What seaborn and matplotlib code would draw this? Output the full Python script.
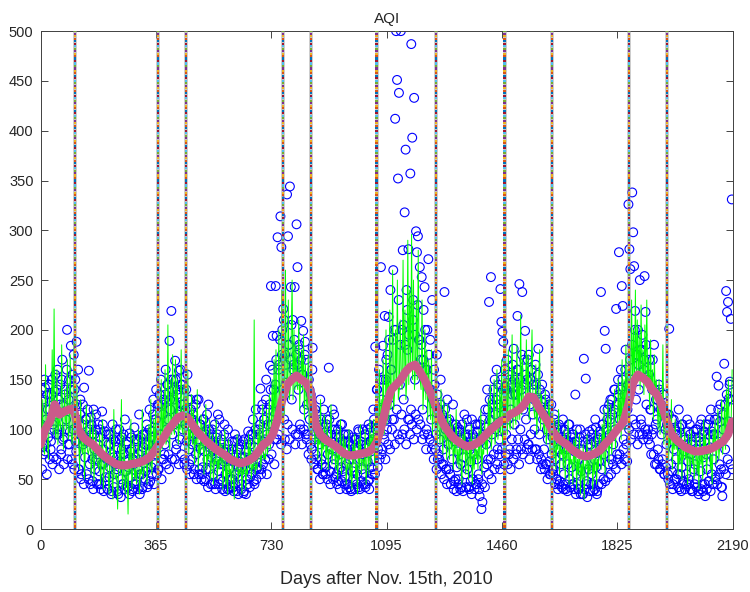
import numpy as np
import matplotlib
matplotlib.use("Agg")
import matplotlib.pyplot as plt
import seaborn as sns

# ---------------------------------------------------------------
# Daily AQI record, Nov. 15th 2010 onwards (two interleaved samples)
# ---------------------------------------------------------------
observed_days_a = list(range(0, 2190, 3))
observed_aqi_a = [
    95, 140, 82, 128, 150, 78, 110, 135, 92, 145,
    120, 88, 150, 105, 72, 138, 115, 95, 160, 130,
    100, 145, 80, 170, 125, 92, 135, 110, 200, 85,
    150, 98, 184, 120, 65, 175, 140, 88, 188, 110,
    60, 95, 130, 55, 105, 85, 142, 72, 110, 90,
    88, 159, 65, 112, 95, 48, 120, 80, 100, 70,
    75, 105, 58, 92, 45, 118, 80, 66, 98, 52,
    70, 40, 95, 62, 85, 38, 105, 72, 55, 88,
    60, 82, 35, 100, 68, 50, 92, 45, 75, 110,
    58, 88, 42, 70, 96, 52, 80, 38, 65, 102,
    72, 48, 90, 60, 115, 55, 78, 40, 95, 66,
    85, 58, 105, 70, 45, 120, 78, 62, 98, 130,
    110, 75, 140, 88, 60, 125, 95, 150, 70, 115,
    130, 85, 160, 100, 145, 75, 189, 120, 219, 95,
    150, 105, 169, 80, 135, 115, 159, 90, 145, 125,
    100, 140, 70, 120, 88, 155, 95, 65, 130, 110,
    85, 115, 60, 100, 75, 130, 90, 55, 105, 80,
    95, 62, 110, 78, 50, 98, 70, 125, 60, 88,
    72, 100, 55, 85, 45, 92, 68, 115, 58, 80,
    65, 90, 48, 78, 105, 55, 70, 40, 85, 60,
    75, 50, 88, 42, 68, 95, 55, 38, 80, 62,
    58, 85, 45, 72, 36, 90, 60, 78, 50, 98,
    70, 52, 95, 65, 110, 48, 82, 120, 60, 90,
    100, 75, 141, 60, 125, 88, 110, 70, 150, 95,
    120, 85, 164, 244, 105, 194, 140, 90, 244, 194,
    293, 160, 120, 314, 283, 200, 221, 110, 175, 147,
    336, 294, 185, 344, 243, 130, 210, 165, 243, 95,
    306, 263, 140, 180, 100, 209, 155, 199, 120, 188,
    170, 125, 95, 150, 110, 135, 80, 182, 105, 90,
    75, 115, 60, 98, 85, 130, 70, 105, 55, 92,
    88, 62, 110, 75, 162, 58, 95, 80, 120, 65,
    70, 100, 55, 85, 48, 92, 75, 62, 105, 58,
    80, 52, 95, 65, 45, 88, 70, 40, 75, 58,
    62, 90, 48, 78, 55, 100, 42, 70, 85, 60,
    75, 55, 95, 45, 82, 68, 105, 50, 88, 62,
    90, 120, 70, 183, 100, 140, 80, 160, 110, 263,
    130, 184, 95, 214, 150, 110, 175, 213, 125, 240,
    160, 110, 260, 200, 412, 500, 451, 352, 438, 145,
    500, 200, 280, 130, 318, 381, 240, 180, 281, 110,
    357, 487, 393, 230, 433, 150, 299, 278, 294, 190,
    263, 170, 253, 120, 220, 243, 160, 100, 200, 271,
    140, 190, 110, 230, 85, 160, 125, 95, 175, 70,
    120, 90, 150, 65, 110, 80, 238, 100, 60, 130,
    85, 110, 55, 95, 70, 125, 48, 88, 105, 62,
    78, 50, 100, 65, 42, 90, 72, 115, 55, 85,
    60, 95, 40, 80, 68, 110, 50, 75, 92, 45,
    70, 105, 55, 33, 88, 20, 27, 95, 62, 120,
    85, 140, 70, 228, 110, 253, 95, 130, 75, 150,
    100, 160, 80, 125, 90, 241, 208, 198, 188, 115,
    140, 95, 170, 110, 75, 150, 120, 90, 165, 181,
    105, 135, 80, 214, 160, 246, 100, 140, 238, 120,
    170, 199, 110, 150, 85, 175, 125, 95, 160, 115,
    140, 100, 165, 80, 130, 181, 95, 120, 70, 145,
    110, 80, 135, 65, 100, 90, 125, 55, 105, 75,
    92, 60, 115, 70, 50, 100, 80, 45, 88, 65,
    75, 110, 55, 90, 40, 80, 65, 105, 50, 85,
    62, 95, 45, 78, 135, 55, 88, 40, 70, 100,
    58, 80, 35, 171, 65, 151, 48, 90, 60, 75,
    85, 55, 100, 45, 70, 110, 62, 38, 92, 68,
    80, 238, 60, 105, 75, 199, 181, 88, 120, 65,
    95, 130, 70, 115, 85, 140, 100, 221, 75, 150,
    278, 110, 160, 244, 224, 90, 135, 180, 105, 120,
    326, 281, 261, 150, 338, 298, 264, 219, 130, 175,
    200, 140, 250, 110, 180, 95, 160, 254, 218, 125,
    150, 90, 170, 120, 75, 140, 100, 185, 65, 130,
    110, 80, 145, 60, 120, 95, 70, 135, 55, 100,
    85, 115, 50, 201, 95, 65, 110, 45, 80, 100,
    70, 95, 55, 120, 40, 85, 62, 105, 48, 78,
    90, 55, 110, 68, 45, 95, 75, 38, 85, 60,
    65, 100, 50, 80, 35, 92, 58, 110, 45, 72,
    88, 33, 75, 60, 105, 48, 82, 120, 55, 95,
    70, 110, 52, 153, 88, 144, 65, 125, 42, 33,
    100, 166, 80, 239, 218, 228, 131, 148, 211, 331,
]

observed_days_b = list(range(2, 2190, 3))
observed_aqi_b = [
    105, 60, 130, 75, 142, 85, 55, 120, 145, 70,
    80, 135, 65, 125, 100, 155, 70, 140, 95, 60,
    125, 75, 150, 90, 65, 140, 100, 160, 70, 130,
    85, 140, 70, 155, 100, 60, 150, 78, 125, 160,
    60, 115, 50, 95, 125, 45, 88, 110, 55, 120,
    50, 100, 45, 105, 70, 40, 95, 60, 115, 45,
    85, 45, 100, 40, 65, 105, 38, 72, 48, 95,
    40, 85, 52, 95, 35, 75, 90, 42, 65, 100,
    72, 38, 65, 90, 32, 80, 45, 95, 40, 68,
    85, 42, 62, 35, 78, 92, 40, 70, 45, 90,
    45, 88, 40, 75, 35, 92, 55, 42, 82, 95,
    50, 95, 42, 85, 100, 48, 92, 55, 115, 45,
    65, 110, 55, 125, 60, 135, 95, 50, 125, 70,
    75, 135, 65, 145, 110, 60, 130, 150, 70, 140,
    130, 70, 150, 85, 140, 65, 118, 160, 75, 145,
    125, 65, 105, 140, 60, 130, 80, 55, 120, 70,
    110, 55, 95, 125, 50, 88, 130, 60, 105, 50,
    55, 110, 48, 95, 60, 115, 42, 100, 82, 45,
    95, 45, 78, 105, 40, 72, 95, 45, 110, 50,
    85, 40, 68, 95, 38, 80, 45, 100, 40, 70,
    42, 80, 50, 38, 88, 45, 75, 90, 35, 68,
    80, 40, 62, 88, 38, 72, 35, 85, 45, 90,
    42, 85, 55, 95, 72, 45, 100, 50, 62, 95,
    60, 105, 55, 120, 65, 110, 90, 130, 55, 105,
    70, 125, 140, 75, 160, 118, 65, 145, 170, 90,
    95, 165, 190, 85, 175, 140, 210, 90, 165, 80,
    105, 185, 90, 170, 205, 100, 160, 190, 85, 175,
    165, 95, 185, 105, 170, 85, 155, 100, 175, 95,
    90, 150, 75, 140, 85, 70, 160, 95, 65, 120,
    70, 105, 60, 95, 50, 110, 65, 55, 120, 62,
    55, 105, 50, 95, 110, 45, 88, 100, 50, 115,
    52, 95, 45, 100, 60, 40, 105, 48, 88, 95,
    45, 88, 40, 80, 95, 42, 85, 38, 92, 50,
    80, 40, 90, 45, 82, 98, 40, 88, 48, 100,
    45, 92, 42, 85, 100, 48, 40, 88, 102, 55,
    60, 110, 55, 105, 140, 62, 120, 70, 150, 75,
    80, 150, 90, 70, 170, 100, 85, 190, 80, 160,
    100, 190, 110, 85, 200, 120, 95, 230, 90, 185,
    115, 95, 205, 100, 185, 85, 220, 110, 195, 95,
    120, 105, 210, 90, 195, 115, 100, 225, 110, 190,
    105, 185, 90, 170, 95, 200, 80, 160, 95, 175,
    90, 140, 80, 130, 70, 145, 80, 60, 135, 75,
    70, 125, 55, 115, 65, 50, 120, 60, 45, 108,
    60, 100, 45, 92, 105, 40, 98, 50, 38, 102,
    45, 98, 40, 90, 105, 38, 85, 95, 42, 110,
    92, 42, 100, 48, 35, 95, 88, 40, 105, 45,
    98, 50, 40, 105, 92, 45, 110, 95, 42, 102,
    65, 120, 55, 130, 70, 50, 125, 140, 60, 115,
    130, 65, 145, 75, 60, 150, 80, 140, 65, 160,
    75, 140, 65, 155, 80, 60, 145, 135, 70, 150,
    135, 75, 160, 90, 65, 150, 80, 175, 75, 145,
    90, 155, 80, 170, 85, 70, 150, 160, 80, 145,
    130, 80, 145, 70, 155, 75, 140, 60, 128, 65,
    115, 60, 130, 65, 50, 120, 68, 55, 125, 60,
    55, 110, 45, 102, 50, 40, 105, 48, 100, 42,
    90, 40, 100, 45, 95, 38, 88, 105, 42, 92,
    45, 95, 40, 88, 35, 100, 45, 40, 92, 35,
    78, 35, 88, 40, 95, 45, 32, 85, 98, 38,
    45, 95, 38, 88, 40, 102, 35, 90, 45, 98,
    95, 45, 105, 50, 120, 48, 100, 110, 52, 125,
    110, 55, 130, 65, 120, 140, 60, 125, 70, 135,
    75, 140, 65, 150, 80, 70, 160, 85, 68, 145,
    100, 170, 90, 185, 110, 95, 200, 105, 175, 85,
    165, 95, 180, 105, 195, 90, 170, 100, 185, 95,
    100, 155, 85, 120, 95, 170, 75, 140, 105, 65,
    130, 70, 140, 60, 125, 65, 135, 55, 115, 62,
    105, 55, 115, 45, 100, 58, 40, 110, 50, 98,
    50, 95, 42, 102, 55, 38, 105, 45, 92, 40,
    85, 45, 98, 50, 105, 40, 88, 38, 98, 45,
    92, 42, 100, 38, 88, 105, 40, 95, 38, 98,
    45, 105, 40, 95, 48, 110, 38, 98, 45, 102,
    95, 50, 110, 45, 120, 55, 108, 60, 42, 115,
    60, 125, 55, 135, 70, 108, 145, 65, 130, 60,
]

# Modelled AQI series
model_days = list(range(1, 2190, 3))
model_aqi = [
    85, 90, 130, 80, 75, 165, 95, 88, 70, 140,
    110, 105, 180, 95, 221, 100, 90, 160, 85, 115,
    105, 100, 185, 95, 80, 140, 110, 100, 170, 90,
    100, 175, 95, 85, 120, 190, 80, 95, 145, 100,
    85, 60, 130, 80, 75, 110, 50, 85, 125, 80,
    75, 80, 115, 55, 70, 120, 48, 72, 100, 70,
    65, 60, 95, 45, 70, 110, 40, 65, 60, 90,
    60, 55, 35, 100, 60, 55, 30, 120, 55, 50,
    55, 20, 60, 85, 55, 130, 40, 55, 95, 35,
    55, 60, 15, 80, 55, 110, 40, 60, 95, 50,
    60, 45, 75, 100, 35, 60, 55, 120, 50, 60,
    65, 95, 45, 70, 105, 60, 130, 55, 75, 110,
    75, 120, 65, 80, 140, 70, 75, 150, 80, 125,
    95, 160, 85, 90, 205, 90, 80, 150, 95, 175,
    100, 95, 170, 100, 150, 85, 105, 100, 180, 100,
    95, 145, 80, 100, 105, 160, 75, 100, 90, 135,
    85, 120, 65, 90, 85, 140, 60, 85, 75, 115,
    80, 105, 55, 80, 125, 60, 75, 70, 110, 50,
    70, 95, 45, 70, 65, 110, 50, 70, 60, 95,
    65, 85, 40, 65, 100, 45, 65, 35, 90, 55,
    60, 40, 85, 55, 30, 60, 60, 95, 45, 60,
    55, 80, 35, 60, 55, 90, 40, 60, 55, 95,
    60, 90, 50, 65, 60, 210, 55, 65, 60, 100,
    70, 110, 60, 75, 125, 70, 75, 70, 120, 75,
    90, 135, 80, 95, 150, 95, 170, 95, 180, 110,
    120, 200, 110, 125, 240, 120, 190, 115, 260, 130,
    140, 230, 130, 140, 190, 250, 130, 200, 140, 185,
    145, 140, 210, 120, 150, 180, 140, 195, 110, 165,
    130, 120, 175, 100, 135, 160, 95, 140, 110, 85,
    90, 120, 70, 90, 85, 130, 60, 90, 80, 115,
    80, 70, 110, 60, 80, 75, 125, 65, 80, 75,
    75, 60, 100, 50, 75, 70, 110, 55, 75, 95,
    65, 90, 45, 65, 60, 100, 50, 65, 40, 85,
    65, 95, 50, 65, 35, 90, 60, 105, 55, 70,
    70, 60, 100, 45, 70, 90, 55, 110, 65, 95,
    80, 110, 65, 85, 120, 75, 90, 160, 85, 130,
    105, 170, 95, 110, 200, 105, 160, 110, 220, 120,
    130, 260, 120, 135, 200, 140, 250, 130, 140, 210,
    150, 140, 270, 150, 220, 130, 150, 290, 145, 240,
    160, 296, 150, 250, 140, 160, 230, 150, 280, 160,
    150, 140, 230, 120, 145, 200, 130, 180, 110, 170,
    125, 110, 180, 95, 120, 140, 100, 160, 85, 130,
    100, 85, 140, 95, 75, 130, 90, 100, 70, 125,
    85, 70, 115, 80, 105, 60, 85, 75, 120, 65,
    80, 60, 100, 70, 45, 95, 75, 110, 55, 85,
    75, 50, 90, 65, 105, 45, 75, 60, 95, 70,
    80, 60, 100, 70, 120, 55, 80, 75, 110, 80,
    90, 75, 130, 90, 145, 80, 95, 100, 150, 85,
    100, 160, 90, 100, 140, 95, 170, 85, 110, 175,
    105, 150, 95, 180, 105, 100, 140, 195, 100, 160,
    115, 105, 185, 110, 150, 110, 215, 115, 170, 120,
    125, 120, 190, 125, 175, 110, 130, 160, 200, 125,
    120, 110, 165, 95, 120, 150, 180, 100, 135, 115,
    105, 95, 140, 85, 100, 115, 130, 75, 110, 90,
    90, 70, 110, 60, 85, 80, 120, 55, 90, 75,
    80, 60, 100, 50, 80, 70, 110, 45, 80, 65,
    70, 45, 90, 60, 100, 40, 70, 55, 95, 35,
    65, 50, 85, 30, 65, 60, 95, 45, 70, 55,
    65, 90, 40, 70, 55, 100, 45, 70, 60, 95,
    75, 60, 105, 70, 120, 55, 80, 80, 130, 65,
    90, 125, 75, 95, 95, 140, 80, 105, 100, 150,
    100, 140, 90, 170, 100, 150, 100, 185, 110, 160,
    135, 190, 130, 230, 140, 200, 140, 240, 150, 210,
    150, 195, 140, 225, 150, 180, 135, 205, 150, 230,
    140, 170, 120, 190, 135, 160, 110, 175, 130, 150,
    125, 100, 150, 95, 125, 110, 185, 85, 125, 105,
    90, 120, 70, 95, 85, 130, 60, 90, 80, 110,
    80, 95, 55, 80, 65, 110, 50, 80, 70, 100,
    70, 85, 45, 95, 70, 55, 100, 65, 75, 50,
    70, 95, 55, 75, 40, 100, 65, 75, 50, 110,
    70, 95, 55, 75, 75, 105, 60, 75, 45, 100,
    80, 110, 65, 80, 120, 70, 85, 85, 130, 75,
    90, 125, 80, 140, 95, 150, 90, 110, 110, 160,
]

# Smoothed seasonal trend
trend_days = list(range(0, 2190, 15)) + [2188]
trend_aqi = [
    85, 100, 108, 125, 115, 118, 120, 121, 100, 92,
    88, 85, 80, 75, 71, 68, 65, 64, 64, 65,
    66, 67, 69, 72, 78, 85, 92, 100, 106, 112,
    114, 112, 105, 98, 93, 88, 84, 80, 77, 74,
    70, 68, 66, 67, 69, 72, 78, 85, 88, 95,
    110, 130, 145, 150, 154, 150, 147, 138, 105, 95,
    90, 87, 84, 80, 76, 74, 74, 75, 76, 77,
    80, 88, 105, 125, 140, 145, 150, 158, 163, 165,
    158, 150, 140, 128, 115, 105, 98, 92, 88, 85,
    83, 84, 86, 90, 95, 100, 104, 108, 110, 115,
    117, 120, 125, 133, 132, 123, 115, 108, 98, 92,
    88, 85, 80, 77, 74, 73, 74, 76, 79, 85,
    90, 96, 102, 108, 125, 147, 155, 152, 148, 140,
    135, 125, 110, 96, 90, 86, 82, 80, 78, 78,
    79, 80, 82, 85, 88, 95, 108,
]

# Days at which the regime changes
break_days = [109, 373, 461, 766, 855, 1063, 1252, 1468, 1619, 1862, 1983]

x_ticks = [0, 365, 730, 1095, 1460, 1825, 2190]
y_ticks = list(range(0, 501, 50))

# ---------------------------------------------------------------
sns.set_style("ticks")
plt.rcParams["font.family"] = ["Liberation Sans", "DejaVu Sans"]
text_color = "#262626"

fig = plt.figure(figsize=(7.5, 5.92), dpi=100)
ax = fig.add_axes([0.054, 0.1064, 0.923, 0.841])

for days, aqi in [(observed_days_a, observed_aqi_a),
                  (observed_days_b, observed_aqi_b)]:
    sns.scatterplot(x=days, y=aqi, ax=ax, marker="o", s=40,
                    color="blue", facecolor="none", edgecolor="blue",
                    linewidth=0.8, zorder=2)
sns.lineplot(x=model_days, y=model_aqi, ax=ax, color="#00ff00", lw=0.7,
             estimator=None, sort=False, zorder=3)
sns.lineplot(x=trend_days, y=trend_aqi, ax=ax, color="#cb5a8a", lw=6,
             estimator=None, sort=False, zorder=4)

# dotted multi-coloured markers for the break days
palette = ["#0072bd", "#d95319", "#edb120", "#7e2f8e", "#77ac30",
           "#4dbeee", "#a2142f"]
dot_y = np.arange(0, 501, 2.5)
dot_colors = [palette[i % len(palette)] for i in range(len(dot_y))]
for d in break_days:
    ax.plot([d, d], [0, 500], color="#9a9a9a", lw=2.6, alpha=0.6,
            zorder=5, solid_capstyle="butt")
    ax.scatter(np.full(len(dot_y), d), dot_y, c=dot_colors, marker="s",
               s=2.2, linewidths=0, zorder=6)

ax.set_xlim(0, 2190)
ax.set_ylim(0, 500)
ax.set_xticks(x_ticks)
ax.set_yticks(y_ticks)
ax.tick_params(direction="in", length=5, width=0.6, top=True, right=True,
               color=text_color, labelcolor=text_color, labelsize=10.5)
ax.tick_params(axis="x", pad=7)
ax.tick_params(axis="y", pad=5)
for sp in ax.spines.values():
    sp.set_visible(True)
    sp.set_color("#404040")
    sp.set_linewidth(0.7)

ax.set_title("AQI", fontsize=11, color=text_color, pad=6)
ax.set_xlabel("Days after Nov. 15th, 2010", fontsize=13, color=text_color,
              labelpad=13)
ax.set_ylabel("")

fig.savefig("out.png", dpi=100)
